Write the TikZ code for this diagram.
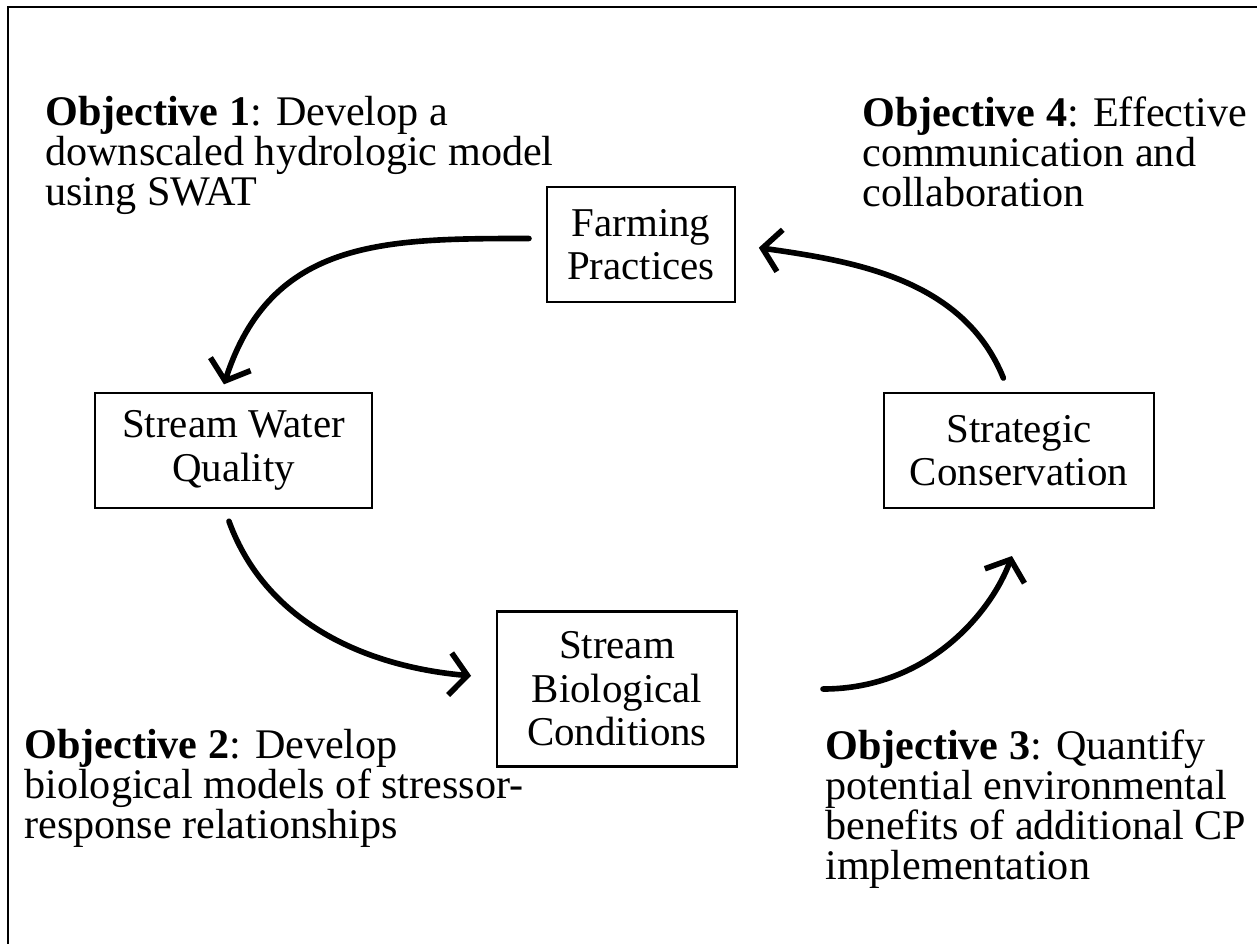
\documentclass[tikz,border=0pt]{standalone}
\usepackage{fontspec}
\setmainfont{Liberation Serif}
\usetikzlibrary{arrows.meta,positioning}
\tikzset{
stage/.style={draw, line width=1.2pt, align=center, inner sep=0pt,
  font=\fontsize{23.3}{24.8}\selectfont},
goal/.style={anchor=north west, align=left, inner sep=0pt,
  font=\fontsize{24}{22.76}\selectfont},
flow/.style={line width=3.2pt, line cap=round,
  -{Straight Barb[length=10pt,width=24pt]}},
}

\begin{document}
\begin{tikzpicture}[x=0.02cm, y=-0.02cm]
\useasboundingbox (0,0) rectangle (1257,943);
% outer frame, runs off the page on the right and at the bottom
\draw[line width=1.1pt] (8,960) -- (8,7) -- (1270,7);

% the four stages of the cycle
\node[stage, minimum width=3.76cm, minimum height=2.3cm] (farm) at (641,244.5) {Farming\\Practices};
\node[stage, minimum width=5.54cm, minimum height=2.3cm] (water) at (233.5,450.5) {Stream Water\\Quality};
\node[stage, minimum width=5.4cm, minimum height=2.3cm] (cons) at (1019,450.5) {Strategic\\Conservation};
\node[stage, minimum width=4.8cm, minimum height=3.1cm] (bio) at (617,689) {Stream\\Biological\\Conditions};

% arrows round the cycle
\draw[flow, shorten <=0.34cm, shorten >=0.16cm] ([yshift=0.12cm]farm.west) to[out=180, in=72, looseness=1.15] ([xshift=-0.24cm]water.north);
\draw[flow, shorten <=0.26cm, shorten >=0.5cm] ([xshift=-0.18cm]water.south) to[out=-70, in=175] ([yshift=0.22cm]bio.west);
\draw[flow, shorten >=1.0cm] ([xshift=1.7cm]bio.east) to[out=0, in=-110] ([xshift=0.2cm]cons.south);
\draw[flow, shorten <=0.3cm, shorten >=0.46cm] ([xshift=-0.2cm]cons.north) to[out=112, in=-8] (farm.east);

% objectives
\node[goal] (obj1) at (45,96) {\textbf{Objective 1}: Develop a\\downscaled hydrologic model\\using SWAT};
\node[goal] (obj4) at (862,96) {\textbf{Objective 4}: Effective\\communication and\\collaboration};
\node[goal] (obj2) at (24,729) {\textbf{Objective 2}: Develop\\biological models of stressor-\\response relationships};
\node[goal] (obj3) at (825,729) {\textbf{Objective 3}: Quantify\\potential environmental\\benefits of additional CP\\implementation};
\end{tikzpicture}
\end{document}
